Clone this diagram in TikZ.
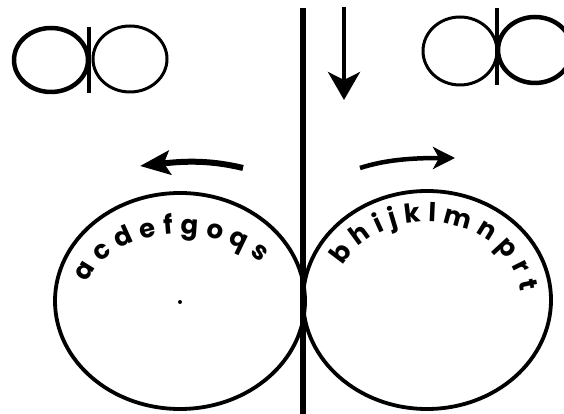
\documentclass[tikz,border=0pt]{standalone}
\usepackage{fontspec}
\newfontfamily\popfont{Poppins}
\usetikzlibrary{arrows.meta,decorations.text,shapes.geometric}
\newcommand\letterfont{\popfont\bfseries\fontsize{26pt}{26pt}\selectfont}
\tikzset{
  loop/.style={draw=black, line width=#1},
  loop/.default=3.5pt,
  bar/.style={draw=black, line width=#1},
  bar/.default=5pt,
  motion/.style={draw=black, line width=#1},
}
\begin{document}
\begin{tikzpicture}[x=1pt,y=1pt]
\useasboundingbox (0,0) rectangle (564,414);
\clip (0,0) rectangle (564,414);
\fill[white] (0,0) rectangle (564,414);

% main vertical bar
\coordinate (vtop) at (303,406);
\coordinate (vbot) at (303,-2);
\draw[bar=6pt] (vtop) -- (vbot);

% down arrow
\coordinate (dtop) at (344,407);
\coordinate (dtip) at (344,314);
\draw[motion=4pt, -{Stealth[length=28pt,width=32pt,inset=8pt]}] (dtop) -- (dtip);

% big loops
\node[loop=3.8pt, ellipse, minimum width=250pt, minimum height=216pt, inner sep=0pt] (bigL) at (180,113) {};
\node[loop=3.8pt, ellipse, minimum width=248pt, minimum height=218pt, inner sep=0pt] (bigR) at (427,114) {};
\fill (180,112) circle (2pt);

% letters
\path[decorate, decoration={text along path, text={|\letterfont|acdefgoqs}, text align={fit to path}}]
  (180,113) ++(164:97 and 67) arc[start angle=164, end angle=34, x radius=97, y radius=67];
\path[decorate, decoration={text along path, text={|\letterfont|bhijklmnprt}, text align={fit to path}}]
  (427,114) ++(154:94 and 78) arc[start angle=154, end angle=6, x radius=94, y radius=78];

% side arrows
\coordinate (lstart) at (243,246);
\coordinate (lend) at (140,248);
\draw[motion=6pt, -{Stealth[length=30pt,width=24pt,inset=6pt]}] (lstart) .. controls (210,254) and (185,253) .. (lend);
\coordinate (rstart) at (360,246);
\coordinate (rend) at (455,256);
\draw[motion=4.5pt, -{Stealth[length=22pt,width=22pt,inset=6pt]}] (rstart) .. controls (385,254) and (410,256) .. (rend);

% small figure top left
\node[loop=4.5pt, ellipse, minimum width=74pt, minimum height=64pt, inner sep=0pt] (tlL) at (51,354) {};
\node[loop=3pt, ellipse, minimum width=74pt, minimum height=66pt, inner sep=0pt] (tlR) at (130,355) {};
\coordinate (tlbt) at (89,387);
\coordinate (tlbb) at (89,321);
\draw[bar=4pt] (tlbt) -- (tlbb);

% small figure top right
\node[loop=3pt, ellipse, minimum width=74pt, minimum height=68pt, inner sep=0pt] (trL) at (460,363) {};
\node[loop=4.5pt, ellipse, minimum width=74pt, minimum height=66pt, inner sep=0pt] (trR) at (535,364) {};
\coordinate (trbt) at (497,406);
\coordinate (trbb) at (497,329);
\draw[bar=4pt] (trbt) -- (trbb);
\end{tikzpicture}
\end{document}
